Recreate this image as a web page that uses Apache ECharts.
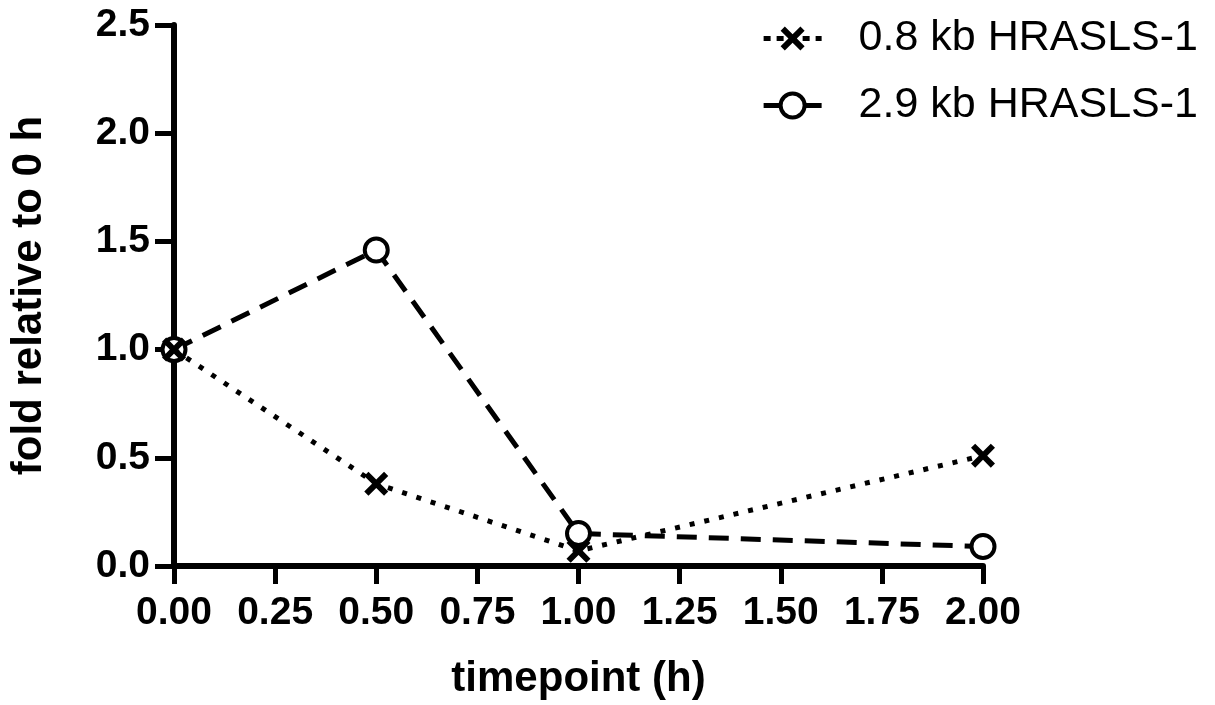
<!DOCTYPE html>
<html>
<head>
<meta charset="utf-8">
<script src="https://cdn.jsdelivr.net/npm/echarts@6/dist/echarts.min.js"></script>
<style>
html,body{margin:0;padding:0;background:#fff;}
#chart{width:1215px;height:705px;}
</style>
</head>
<body>
<div id="chart"></div>
<script>
const timepoints = [0, 0.5, 1.0, 2.0];
const kb08 = [1.0, 0.38, 0.07, 0.51];
const kb29 = [1.0, 1.46, 0.15, 0.09];
const seriesNames = ['0.8 kb HRASLS-1', '2.9 kb HRASLS-1'];
const xTitle = 'timepoint (h)';
const yTitle = 'fold relative to 0 h';

const crossPath = 'path://M3.5,0L10,6.5L16.5,0L20,3.5L13.5,10L20,16.5L16.5,20L10,13.5L3.5,20L0,16.5L6.5,10L0,3.5Z';
const FONT = 'Liberation Sans, Arial, sans-serif';

const chart = echarts.init(document.getElementById('chart'));
chart.setOption({
  animation: false,
  backgroundColor: '#fff',
  grid: {left: 172, right: 232, top: 25, bottom: 137, containLabel: false},
  legend: {
    orient: 'vertical',
    right: 12,
    top: 12,
    itemWidth: 58,
    itemHeight: 30,
    itemGap: 24,
    textStyle: {fontFamily: FONT, fontSize: 43, color: '#000', padding: [0,0,0,32]},
    data: [
      {name: seriesNames[0], lineStyle: {width: 5, type: [7, 6], color: '#000'}},
      {name: seriesNames[1], lineStyle: {width: 5, type: [22, 14], color: '#000'},
        itemStyle: {color: '#fff', borderColor: '#000', borderWidth: 4}}
    ]
  },
  xAxis: {
    type: 'value',
    min: 0, max: 2, interval: 0.25,
    name: xTitle,
    nameLocation: 'middle',
    nameGap: 92,
    nameTextStyle: {fontFamily: FONT, fontWeight: 'bold', fontSize: 42, color: '#000'},
    axisLine: {show: true, onZero: false, lineStyle: {color: '#000', width: 6}},
    axisTick: {show: true, length: 18, lineStyle: {color: '#000', width: 5}},
    splitLine: {show: false},
    axisLabel: {fontFamily: FONT, fontWeight: 'bold', fontSize: 39, color: '#000', margin: 28,
      formatter: v => v.toFixed(2)}
  },
  yAxis: {
    type: 'value',
    min: 0, max: 2.5, interval: 0.5,
    name: yTitle,
    nameLocation: 'middle',
    nameGap: 124,
    nameRotate: 90,
    nameTextStyle: {fontFamily: FONT, fontWeight: 'bold', fontSize: 42, color: '#000'},
    axisLine: {show: true, lineStyle: {color: '#000', width: 6}},
    axisTick: {show: true, length: 19, lineStyle: {color: '#000', width: 5}},
    splitLine: {show: false},
    axisLabel: {fontFamily: FONT, fontWeight: 'bold', fontSize: 39, color: '#000', margin: 24,
      formatter: v => v.toFixed(1)}
  },
  series: [
    {
      name: seriesNames[0],
      type: 'line',
      data: timepoints.map((t, i) => [t, kb08[i]]),
      symbol: crossPath,
      symbolSize: 24,
      color: '#000',
      itemStyle: {color: '#000'},
      lineStyle: {color: '#000', width: 5, type: [5, 10]},
      z: 3
    },
    {
      name: seriesNames[1],
      type: 'line',
      data: timepoints.map((t, i) => [t, kb29[i]]),
      symbol: 'circle',
      symbolSize: 23,
      color: '#000',
      itemStyle: {color: '#fff', borderColor: '#000', borderWidth: 4},
      lineStyle: {color: '#000', width: 5, type: [20, 12]},
      z: 2
    }
  ]
});
</script>
</body>
</html>
